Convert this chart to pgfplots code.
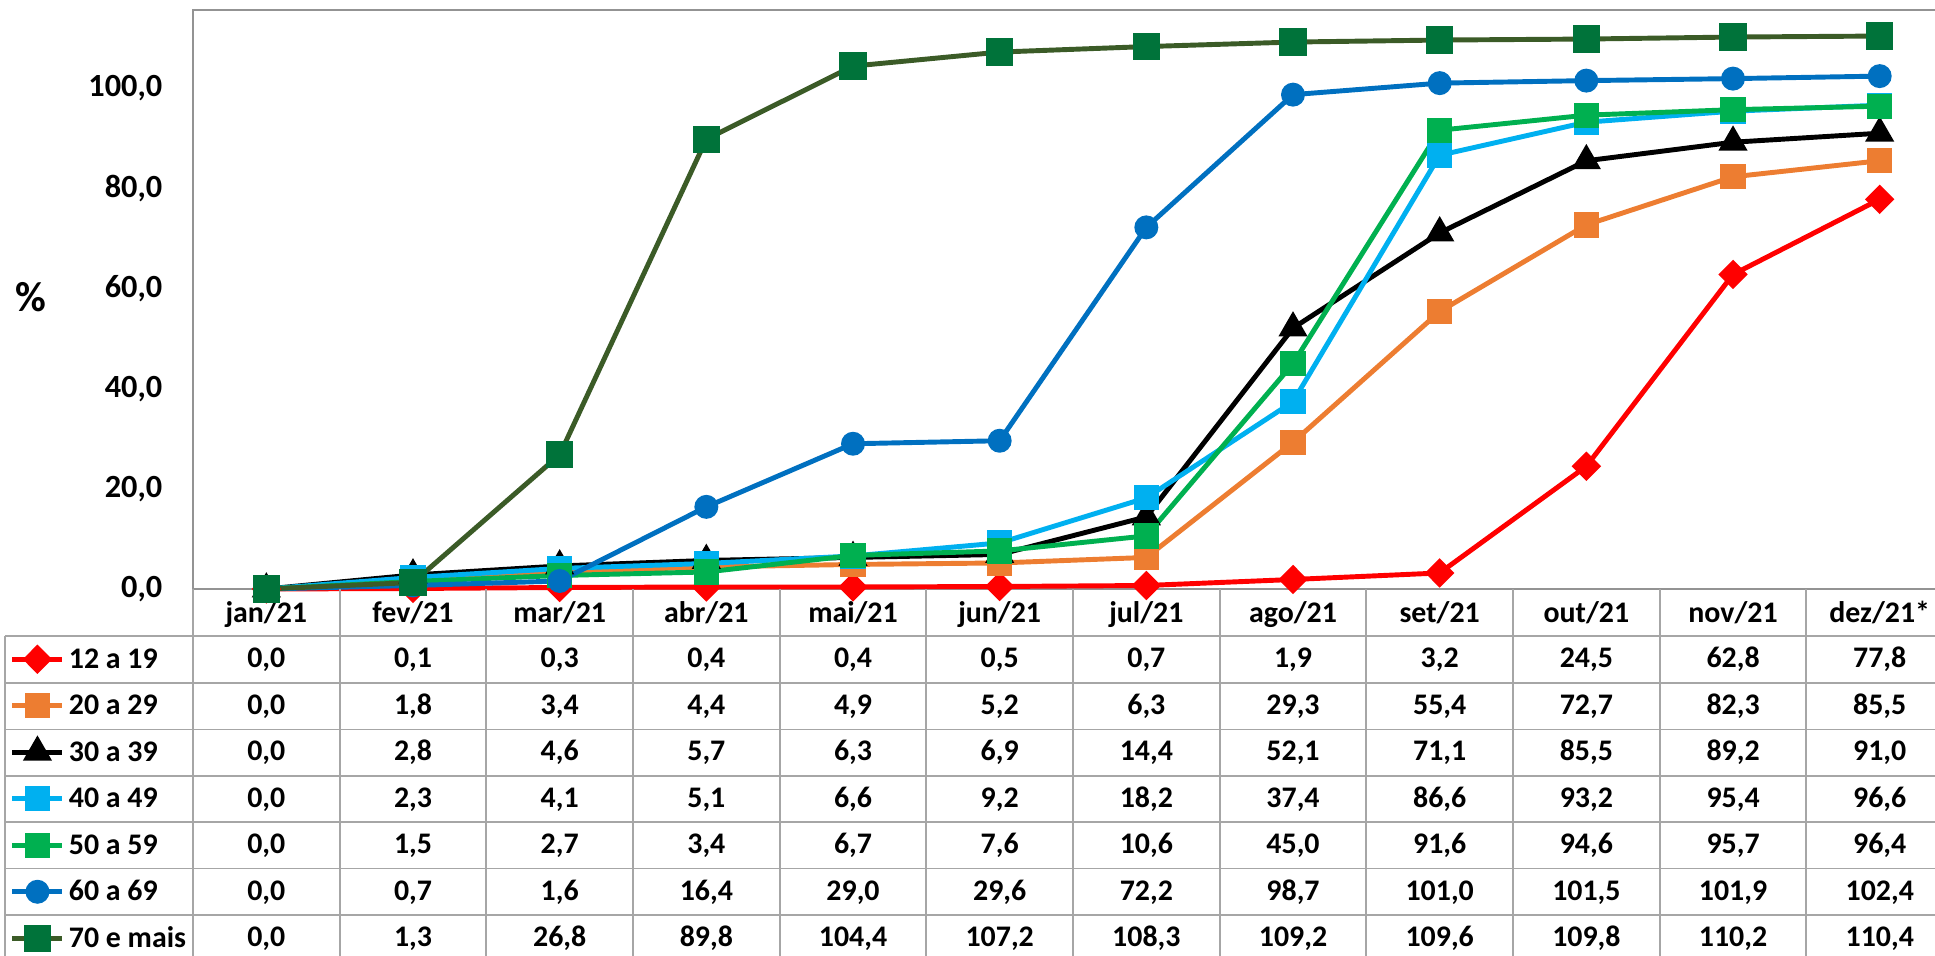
\documentclass[border=0pt]{standalone}
\usepackage{fontspec}
\setmainfont{Carlito}
\usepackage{pgfplots}
\usepackage{pgfplotstable}
\pgfplotsset{compat=1.18}
\definecolor{cA}{HTML}{FF0000}
\definecolor{cB}{HTML}{ED7D31}
\definecolor{cC}{HTML}{000000}
\definecolor{cD}{HTML}{00B0F0}
\definecolor{cE}{HTML}{00B050}
\definecolor{cF}{HTML}{0070C0}
\definecolor{cG}{HTML}{3B5B27}
\definecolor{cGm}{HTML}{00733A}
\definecolor{gridc}{HTML}{A6A6A6}

\pgfplotstableread{
x a b c d e f g
0 0.0 0.0 0.0 0.0 0.0 0.0 0.0
1 0.1 1.8 2.8 2.3 1.5 0.7 1.3
2 0.3 3.4 4.6 4.1 2.7 1.6 26.8
3 0.4 4.4 5.7 5.1 3.4 16.4 89.8
4 0.4 4.9 6.3 6.6 6.7 29.0 104.4
5 0.5 5.2 6.9 9.2 7.6 29.6 107.2
6 0.7 6.3 14.4 18.2 10.6 72.2 108.3
7 1.9 29.3 52.1 37.4 45.0 98.7 109.2
8 3.2 55.4 71.1 86.6 91.6 101.0 109.6
9 24.5 72.7 85.5 93.2 94.6 101.5 109.8
10 62.8 82.3 89.2 95.4 95.7 101.9 110.2
11 77.8 85.5 91.0 96.6 96.4 102.4 110.4
}\datatable

\newcommand{\tfont}{\fontsize{8.5}{10}\selectfont\bfseries}

\begin{document}
\begin{tikzpicture}
\useasboundingbox (-1.93,-3.67) rectangle (17.42,5.89);
\clip (-1.93,-3.67) rectangle (17.42,5.89);
\begin{axis}[
  at={(0,0)}, anchor=south west,
  scale only axis, width=17.6cm, height=5.79cm,
  xmin=-0.5, xmax=11.5, ymin=0, ymax=115.6,
  xtick={0,...,11},
  xticklabels={jan/21,fev/21,mar/21,abr/21,mai/21,jun/21,jul/21,ago/21,set/21,out/21,nov/21,dez/21*},
  xticklabel style={anchor=base, yshift=-0.33cm, inner sep=0pt, font=\tfont},
  ytick={0,20,...,100},
  yticklabel style={anchor=east, inner sep=0pt, xshift=-0.3cm, font=\fontsize{9.2}{10}\selectfont\bfseries},
  /pgf/number format/.cd, fixed, fixed zerofill, precision=1, use comma, assume math mode=true,
  /pgfplots/.cd,
  major tick length=0pt,
  axis line style={draw=gray!85, line width=0.6pt},
  legend cell align=left,
  legend image code/.code={\draw[mark repeat=2, mark phase=2] plot coordinates {(0cm,0cm) (0.25cm,0cm) (0.5cm,0cm)};},
  legend style={at={(-0.10397,-0.08117)}, anchor=north west, draw=none, fill=none,
    inner sep=0pt, outer sep=0pt, row sep=0pt, column sep=0.04cm, font=\tfont,
    nodes={inner sep=0pt, text height=0.32cm, text depth=0.145cm}},
  clip=false,
]
\addplot[cA, line width=1.4pt, mark=diamond*, mark size=3.2pt, mark options={solid, fill=cA, xscale=1.33}] table[x=x, y=a]{\datatable};
\addlegendentry{12 a 19}
\addplot[cB, line width=1.4pt, mark=square*, mark size=2.9pt, mark options={solid, fill=cB}] table[x=x, y=b]{\datatable};
\addlegendentry{20 a 29}
\addplot[cC, line width=1.4pt, mark=triangle*, mark size=3.4pt, mark options={solid, fill=cC}] table[x=x, y=c]{\datatable};
\addlegendentry{30 a 39}
\addplot[cD, line width=1.4pt, mark=square*, mark size=2.9pt, mark options={solid, fill=cD}] table[x=x, y=d]{\datatable};
\addlegendentry{40 a 49}
\addplot[cE, line width=1.4pt, mark=square*, mark size=2.9pt, mark options={solid, fill=cE}] table[x=x, y=e]{\datatable};
\addlegendentry{50 a 59}
\addplot[cF, line width=1.4pt, mark=*, mark size=2.7pt, mark options={solid, fill=cF, draw=cF}] table[x=x, y=f]{\datatable};
\addlegendentry{60 a 69}
\addplot[cG, line width=1.4pt, mark=square*, mark size=3.2pt, mark options={solid, fill=cGm, draw=cGm}] table[x=x, y=g]{\datatable};
\addlegendentry{70 e mais}
\end{axis}
% table grid
\begin{scope}[draw=gridc, line width=0.55pt]
\foreach \yy in {-0.47,-0.94,-1.405,-1.87,-2.33,-2.795,-3.26}
  \draw (-1.88,\yy) -- (17.6,\yy);
\foreach \k in {0,...,12}
  \draw ({1.4667*\k},0) -- ({1.4667*\k},-3.8);
\draw (-1.88,-0.47) -- (-1.88,-3.8);
\end{scope}
% table values
\foreach \col/\yy in {a/-0.788, b/-1.253, c/-1.718, d/-2.183, e/-2.648, f/-3.113, g/-3.578} {
  \foreach \r in {0,...,11} {
    \pgfplotstablegetelem{\r}{\col}\of\datatable
    \node[anchor=base, inner sep=0pt, font=\tfont] at ({1.4667*(\r+0.5)},\yy)
      {\pgfmathprintnumber[fixed, fixed zerofill, precision=1, use comma, assume math mode=true]{\pgfplotsretval}};
  }
}
\node[font=\fontsize{12}{14}\selectfont\bfseries] at (-1.62,2.92) {\%};
\end{tikzpicture}
\end{document}
